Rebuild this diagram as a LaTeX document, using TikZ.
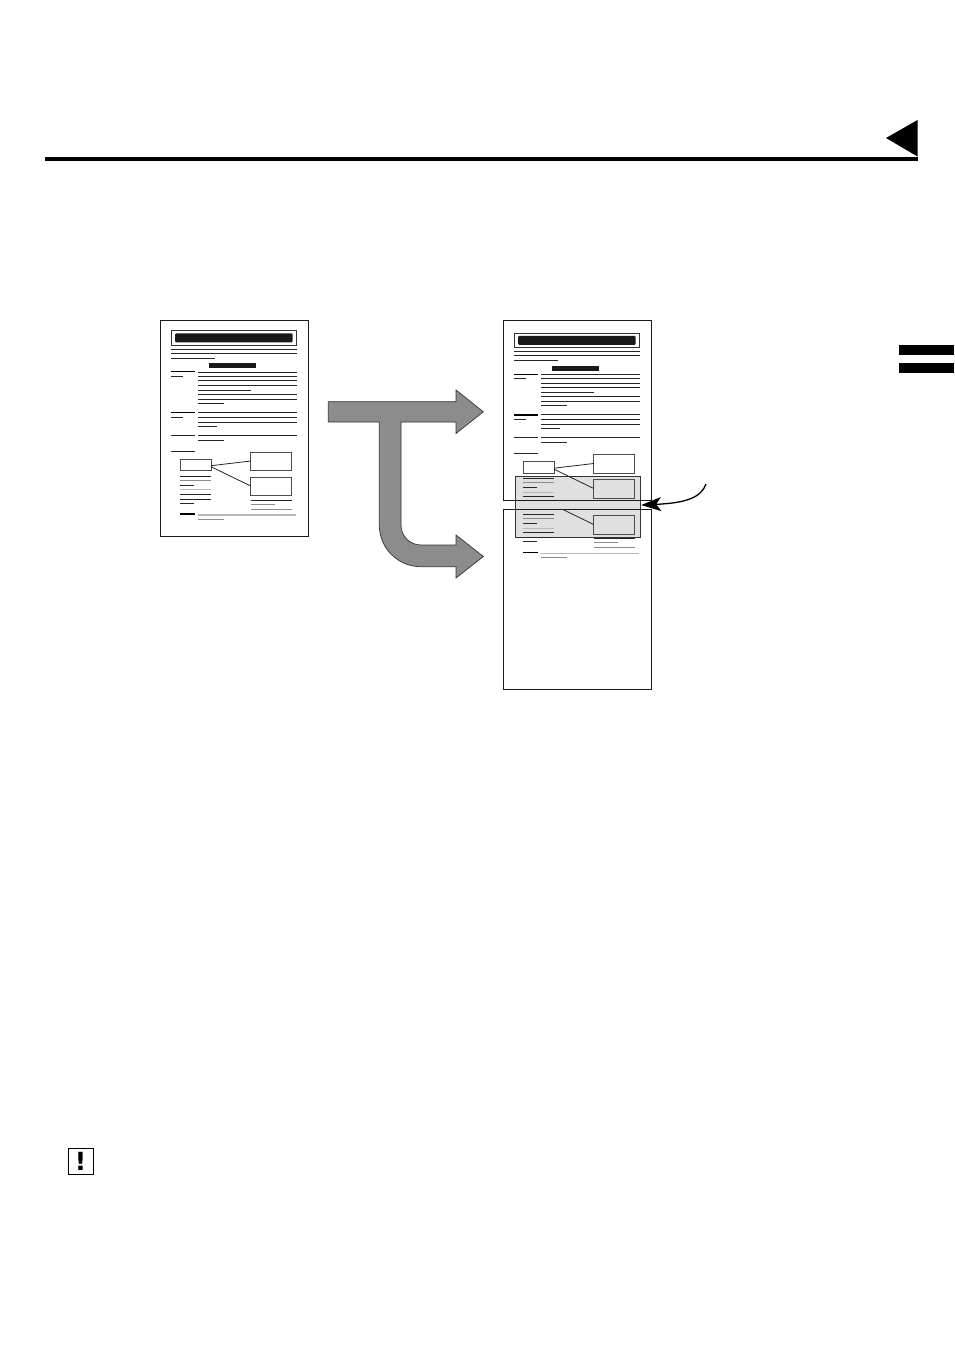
\documentclass[tikz,border=0pt]{standalone}
\usepackage{fontspec}
\newfontfamily\iconfont{DejaVu Sans}
\usetikzlibrary{arrows.meta}
\definecolor{arrowgray}{RGB}{140,140,140}
\tikzset{
  dk/.style={draw=black!85, line width=0.9pt},
  gy/.style={draw=black!45, line width=0.9pt},
  lg/.style={draw=black!28, line width=1.3pt},
  thk/.style={draw=black, line width=1.4pt},
  pagebox/.style={draw=black!90, line width=1pt},
  bx/.style={draw=black!70, line width=1pt},
}
\newcommand\docbody{%
  \draw[line width=1pt, draw=black!80] (11,10.7) rectangle (136.7,25);
  \fill[black!90, rounded corners=1.2pt] (15,13.3) rectangle (132.7,22.3);
  \draw[dk] (11,29) -- (136.7,29);
  \draw[dk] (11,33.3) -- (136.7,33.3);
  \draw[dk] (11,38.3) -- (55,38.3);
  \fill[black!90] (49,43.3) rectangle (95.7,48.3);
  \draw[thk] (11,51.7) -- (35,51.7);
  \draw[dk] (11,56) -- (23.3,56);
  \foreach \yy in {52.3,56,60.7,65.3,74.3,79} {\draw[dk] (38.3,\yy) -- (136.7,\yy);}
  \draw[dk] (38.3,70.3) -- (91,70.3);
  \draw[dk] (38.3,83.3) -- (64,83.3);
  \draw[thk] (11,92.3) -- (35,92.3);
  \draw[dk] (11,97) -- (23.3,97);
  \foreach \yy in {92.3,97,102} {\draw[dk] (38.3,\yy) -- (136.7,\yy);}
  \draw[dk] (38.3,106.3) -- (57.3,106.3);
  \draw[dk] (11,115) -- (35,115);
  \draw[dk] (38.3,115) -- (136.7,115);
  \draw[dk] (38.3,120.3) -- (64,120.3);
  \draw[dk] (11,131) -- (35,131);
  \draw[bx] (20,139) rectangle (51,150.7);
  \draw[bx] (90.7,132.3) rectangle (131.7,150.7);
  \draw[bx] (90.7,157.3) rectangle (131.7,175.7);
  \draw[dk, line width=0.8pt] (51,145.7) -- (90.7,141);
  \draw[dk, line width=0.8pt] (51,146.7) -- (90.7,166);
  \draw[dk] (20,156.3) -- (51,156.3);
  \draw[gy] (20,160.3) -- (51,160.3);
  \draw[dk] (20,165.3) -- (34.3,165.3);
  \draw[lg] (20,169.7) -- (51,169.7);
  \draw[dk] (20,174.3) -- (51,174.3);
  \draw[dk] (20,179) -- (51,179);
  \draw[dk] (20,183.3) -- (34.3,183.3);
  \draw[dk] (90.7,180) -- (131.7,180);
  \draw[gy] (90.7,184.3) -- (115,184.3);
  \draw[gy] (90.7,189) -- (131.7,189);
  \draw[thk] (20,194) -- (35,194);
  \draw[lg] (38.3,195) -- (136.3,195);
  \draw[gy] (38.3,199.3) -- (64,199.3);
}
\begin{document}
\begin{tikzpicture}[x=1pt,y=-1pt]
  \fill[white] (0,0) rectangle (954,1351);
  \useasboundingbox (0,0) rectangle (954,1351);

  % header rule and triangle
  \draw[line width=3.6pt] (45,159.3) -- (917.5,159.3);
  \fill (886,138) -- (917.5,120) -- (917.5,156.5) -- cycle;
  % side tab
  \fill (899,345) rectangle (954,355);
  \fill (899,362.7) rectangle (954,372.7);

  % left document
  \draw[pagebox] (160,320) rectangle (308.7,536.7);
  \begin{scope}[shift={(160,320)}]
    \docbody
  \end{scope}

  % overlap shading
  \node[draw=black!80, fill=black!12, line width=0.9pt, inner sep=0pt,
        minimum width=125.4pt, minimum height=61.3pt] (overlap) at (578,506.65) {};

  % right upper document
  \begin{scope}
    \clip (503,320) rectangle (651.3,500);
    \begin{scope}[shift={(503,322.5)}]
      \docbody
    \end{scope}
  \end{scope}
  \draw[pagebox] (503,320) rectangle (651.3,500);

  % right lower document
  \begin{scope}
    \clip (503,509.3) rectangle (651.3,689.3);
    \begin{scope}[shift={(503,358.5)}]
      \docbody
    \end{scope}
  \end{scope}
  \draw[pagebox] (503,509.3) rectangle (651.3,689.3);

  % big gray arrow
  \draw[fill=arrowgray, draw=black!80, line width=0.7pt]
    (328.3,401.7) -- (456,401.7) -- (456,390) -- (483.3,411.8) -- (456,433.5)
    -- (456,422) -- (401,422) -- (401,525.2)
    .. controls (401,536.1) and (409.9,545) .. (420.8,545)
    -- (456,545) -- (456,535) -- (483.3,556.5) -- (456,578) -- (456,566.7)
    -- (420.8,566.7)
    .. controls (397.9,566.7) and (379.3,548.1) .. (379.3,525.2)
    -- (379.3,422) -- (328.3,422) -- cycle;

  % curved pointer
  \coordinate (cs) at (706,484);
  \draw[line width=1.3pt, -{Stealth[length=20pt,width=14pt,inset=5pt]}]
    (cs) .. controls (701,498) and (685,503) .. ([yshift=1.6pt]overlap.east);

  % caution icon
  \node[draw, line width=1pt, minimum width=25pt, minimum height=26pt, inner sep=0pt,
        font=\iconfont\bfseries\fontsize{25}{25}\selectfont] (warn) at (80.5,1161) {!};
\end{tikzpicture}
\end{document}
